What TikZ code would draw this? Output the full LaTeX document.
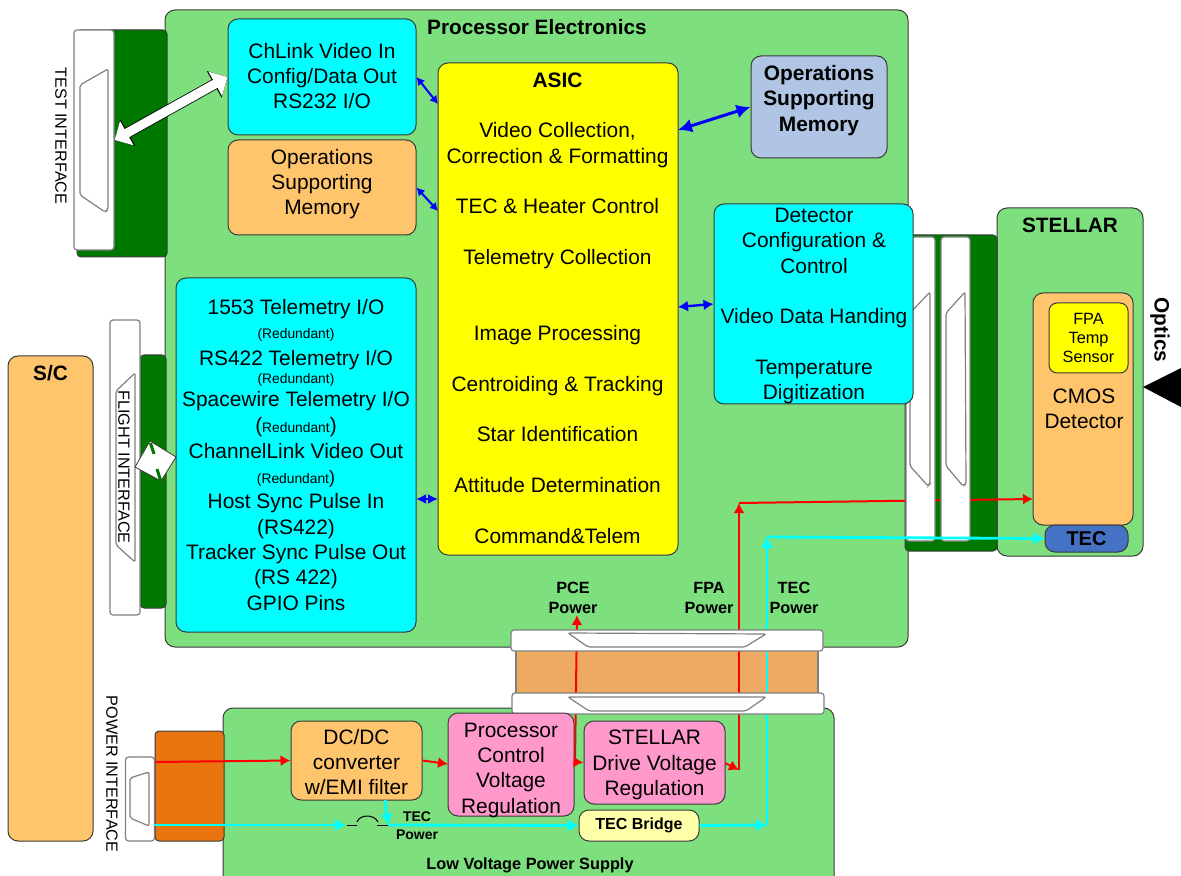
\documentclass[tikz,border=0pt]{standalone}
\usepackage{fontspec}
\setmainfont{Liberation Sans}
\usepackage{xcolor}
\usetikzlibrary{arrows.meta, positioning}

\definecolor{panelgreen}{HTML}{7DDF7D}
\definecolor{boardgreen}{HTML}{007800}
\definecolor{memorange}{HTML}{FFC56D}
\definecolor{regpink}{HTML}{FF99CC}
\definecolor{membluegrey}{HTML}{B0C4E4}
\definecolor{tecblue}{HTML}{4472C4}
\definecolor{flexorange}{HTML}{EDAA60}
\definecolor{pwrorange}{HTML}{E97510}
\definecolor{bridgeyellow}{HTML}{FFFFAA}
\definecolor{edgegrey}{HTML}{3A3A3A}
\definecolor{ioacyan}{HTML}{00FFFF}
\definecolor{asicyellow}{HTML}{FFFF00}
\definecolor{wirered}{HTML}{FF0000}
\definecolor{wireblue}{HTML}{0000FF}

\tikzset{
    panel/.style={draw=edgegrey, line width=0.5pt, fill=panelgreen, rounded corners=5pt, inner sep=0pt},
    board/.style={draw=edgegrey, line width=0.5pt, fill=boardgreen, rounded corners=2pt, inner sep=0pt},
    strip/.style={draw=gray, line width=0.6pt, fill=white, rounded corners=1.5pt, inner sep=0pt},
    dsub/.style={draw=gray, line width=0.6pt, fill=white, rounded corners=1pt},
    box/.style={draw=edgegrey, line width=0.5pt, rounded corners=5pt, inner sep=0pt, align=center,
        font=\fontsize{10.45}{12.67}\selectfont},
    boxtext/.style={inner sep=0pt, align=center, font=\fontsize{10.45}{12.67}\selectfont},
    title/.style={inner sep=0pt, align=center, font=\fontsize{10.4}{12.67}\selectfont\bfseries},
    smalltitle/.style={inner sep=0pt, align=center, font=\fontsize{8.15}{10}\selectfont\bfseries},
    sidetext/.style={inner sep=0pt, rotate=-90, font=\fontsize{8.1}{10}\selectfont},
    redline/.style={draw=wirered, line width=1pt},
    cyanline/.style={draw=ioacyan, line width=1.4pt, >={Latex[length=5.5pt,width=6.5pt]}},
    blueline/.style={draw=wireblue, line width=1pt, <->},
    whiteline/.style={draw=white, line width=4.6pt,
        {Triangle[length=7pt,width=13.5pt]}-{Triangle[length=7pt,width=13.5pt]},
        preaction={draw=black, line width=5.4pt,
        {Triangle[length=7.6pt,width=14.8pt]}-{Triangle[length=7.6pt,width=14.8pt]}}}
}
\newcommand{\redund}[1]{{\fontsize{6.9}{12.67}\selectfont #1}}

\begin{document}
\begin{tikzpicture}[>={Latex[length=5pt,width=5.5pt]}, x=0.5pt, y=-0.5pt]
    \useasboundingbox (0,0) rectangle (1181,876);

    % 1. Cac khoi nen
    \node[panel, minimum width=371.5pt, minimum height=318.5pt] (pce) at (536.5,328.5) {};
    \node[panel, minimum width=73pt, minimum height=174pt] (stellar) at (1070,382) {};
    \node[panel, minimum width=305.5pt, minimum height=91pt] (lvps) at (528.5,799) {};
    \node[box, fill=memorange, minimum width=42.5pt, minimum height=242.5pt] (sc) at (50.5,598.5) {};
    \node[title] (sctitle) at (50.5,373) {S/C};

    % 2. Bo mach va khoi cam
    \node[board, minimum width=45pt, minimum height=113.5pt] (testboard) at (122,143.5) {};
    \node[board, minimum width=13pt, minimum height=126.5pt] (flightboard) at (153,481.5) {};
    \node[board, minimum width=46pt, minimum height=158pt] (fpaboard) at (951,393) {};
    \node[board, fill=pwrorange, minimum width=34.5pt, minimum height=55pt] (pwrboard) at (189.5,786) {};
    \node[draw=gray, line width=0.6pt, fill=flexorange, inner sep=0pt, minimum width=151pt, minimum height=23pt] (flex) at (667,672) {};

    % 3. Duong nguon do
    \coordinate (pwrred) at (155,762);
    \coordinate (pcejunc) at (575,762);
    \coordinate (pcetop) at (577,615);
    \coordinate (fpajunc) at (739,770);
    \coordinate (fpatop) at (739,503);
    \coordinate (cmosin) at (1033,499);
    \coordinate (procin) at (448,764);
    \coordinate (fpaout) at (725,763);

    % 4. Duong nguon TEC
    \coordinate (pwrcyan) at (154,825);
    \coordinate (fuseleft) at (346,825);
    \coordinate (fuseright) at (388,825);
    \coordinate (dcdcout) at (385,800);
    \coordinate (tecup) at (767,825);
    \coordinate (tectop) at (767,537);

    \draw[redline, ->] (pcejunc) -- (pcetop);
    \draw[redline, ->] (fpajunc) -- (fpatop);
    \draw[redline, ->] (fpatop) -- (cmosin);
    \draw[cyanline, ->] (tecup) -- (tectop);

    % 5. Dau noi mau trang
    \node[strip, minimum width=20pt, minimum height=110pt] (testconn) at (94,140) {};
    \draw[dsub] (108,69) -- (80,85) -- (80,195) -- (105,212) -- (108,210) -- cycle;
    \node[strip, minimum width=15pt, minimum height=147.5pt] (flightconn) at (125,467.5) {};
    \draw[dsub] (135,373) -- (116,391) -- (116,545) -- (135,562) -- cycle;
    \node[strip, minimum width=14.5pt, minimum height=42pt] (pwrconn) at (140,799) {};
    \draw[dsub] (149,772) -- (130,778) -- (130,818) -- (149,826) -- cycle;
    \node[strip, minimum width=14.5pt, minimum height=152pt] (fpaconna) at (920.5,389) {};
    \draw[dsub] (930,292) -- (910,313) -- (910,466) -- (928,486) -- (930,484) -- cycle;
    \node[strip, minimum width=14.5pt, minimum height=152pt] (fpaconnb) at (955.5,389) {};
    \draw[dsub] (965,292) -- (946,313) -- (946,466) -- (963,486) -- (966,484) -- cycle;
    \node[strip, minimum width=156pt, minimum height=10.5pt] (flextop) at (667,640.5) {};
    \draw[dsub] (568,633) -- (588,647) -- (745,647) -- (766,634) -- cycle;
    \node[strip, minimum width=156pt, minimum height=10.5pt] (flexbot) at (668,703.5) {};
    \draw[dsub] (568,697) -- (589,711) -- (746,711) -- (766,697) -- cycle;

    % 6. Cac hop trong Processor Electronics
    \node[box, fill=ioacyan, minimum width=94pt, minimum height=58pt] (chlink) at (322,77) {};
    \node[boxtext] (chlinktext) at (322,76) {ChLink Video In\\Config/Data Out\\RS232 I/O};
    \node[box, fill=memorange, minimum width=94pt, minimum height=47.5pt] (opsleft) at (322,187.5) {};
    \node[boxtext] (opslefttext) at (322,184) {Operations\\Supporting\\Memory};
    \node[box, fill=asicyellow, minimum width=120pt, minimum height=246pt] (asic) at (558,309) {};
    \node[boxtext] (asictext) at (557.5,308)
        {\textbf{ASIC}\\~\\Video Collection,\\Correction \& Formatting\\~\\TEC \& Heater Control\\~\\Telemetry Collection\\~\\~\\Image Processing\\~\\Centroiding \& Tracking\\~\\Star Identification\\~\\Attitude Determination\\~\\Command\&Telem};
    \node[box, fill=membluegrey, minimum width=68pt, minimum height=51pt] (opsright) at (819,107) {};
    \node[boxtext, font=\fontsize{10.45}{12.67}\selectfont\bfseries] (opsrighttext) at (819,100.5) {Operations\\Supporting\\Memory};
    \node[box, fill=ioacyan, minimum width=99.5pt, minimum height=100pt] (detcfg) at (813.5,304) {};
    \node[boxtext] (detcfgtext) at (814,306)
        {Detector\\Configuration \&\\Control\\~\\Video Data Handing\\~\\Temperature\\Digitization};
    \node[box, fill=ioacyan, minimum width=120pt, minimum height=177pt] (telem) at (296,455)
        {1553 Telemetry I/O\\
         \raisebox{0.8pt}{\redund{(Redundant)}}\\
         RS422 Telemetry I/O\\[-2.6pt]
         \raisebox{0.8pt}{\redund{(Redundant)}}\\[-2.2pt]
         Spacewire Telemetry I/O\\[1.3pt]
         \raisebox{0.8pt}{(\redund{Redundant})}\\[-0.6pt]
         ChannelLink Video Out\\[0.4pt]
         \raisebox{0.8pt}{\redund{(Redundant}\fontsize{9}{12.67}\selectfont)}\\[-0.6pt]
         Host Sync Pulse In\\
         (RS422)\\
         Tracker Sync Pulse Out\\
         (RS 422)\\
         GPIO Pins};

    % 7. Khoi STELLAR
    \node[box, fill=memorange, minimum width=50pt, minimum height=116pt] (cmos) at (1083,409) {};
    \node[boxtext] (cmostext) at (1084,408.5) {CMOS\\Detector};
    \node[box, fill=asicyellow, rounded corners=4pt, minimum width=39.5pt, minimum height=35pt, font=\fontsize{8.15}{9.7}\selectfont] (fpatemp) at (1088.5,338)
        {FPA\\Temp\\Sensor};
    \node[box, fill=tecblue, minimum width=41.5pt, minimum height=13.5pt, font=\fontsize{10}{12}\selectfont\bfseries] (tecbox) at (1086.5,538.5) {TEC};

    % 8. Khoi Low Voltage Power Supply
    \node[box, fill=memorange, minimum width=65.5pt, minimum height=39.5pt] (dcdc) at (356.5,760.5) {};
    \node[boxtext] (dcdctext) at (356.5,762) {DC/DC\\converter\\w/EMI filter};
    \node[box, fill=regpink, minimum width=63pt, minimum height=51.5pt] (procreg) at (511,764.5) {};
    \node[boxtext] (procregtext) at (511,770) {Processor\\Control\\Voltage\\Regulation};
    \node[box, fill=regpink, minimum width=70.5pt, minimum height=41.5pt] (stellarreg) at (654.5,762.5) {};
    \node[boxtext] (stellarregtext) at (654.5,765) {STELLAR\\Drive Voltage\\Regulation};
    \node[box, fill=bridgeyellow, minimum width=60pt, minimum height=15.5pt, font=\fontsize{8}{10}\selectfont\bfseries] (tecbridge) at (639,825.5) {TEC Bridge};

    % 9. Mui ten tren mat cac hop
    \draw[redline, ->] (pwrred) -- (dcdc.west);
    \draw[redline, ->] (dcdc.east) -- (procin);
    \draw[redline, ->] (pcejunc) -- (stellarreg.west);
    \draw[redline, ->] (fpaout) -- (fpajunc);
    \draw[cyanline, ->] (pwrcyan) -- (fuseleft);
    \draw[cyanline, ->] (dcdcout) -- (fuseright);
    \draw[cyanline, ->] (fuseright) -- (tecbridge.west);
    \draw[cyanline, ->] (tecbridge.east) -- (tecup);
    \draw[cyanline, ->] (tectop) -- (tecbox.west);

    % Cau chi tren duong TEC
    \draw[line width=0.5pt] (347,825) -- (357,825);
    \draw[line width=0.5pt] (357,822) .. controls (360,814) and (374,814) .. (378,822);
    \draw[line width=0.5pt] (377,825) -- (388,825);

    % Mui ten xanh
    \coordinate (asicchlink) at (438,104);
    \coordinate (asicops) at (438,211);
    \coordinate (asicmem) at (678,130);
    \coordinate (asicdet) at (678,307);
    \coordinate (asictelem) at (438,499);
    \coordinate (telemasic) at (416,499);
    \draw[blueline, >={Latex[length=4pt,width=4.5pt]}] (chlink.east) -- (asicchlink);
    \draw[blueline, >={Latex[length=4pt,width=4.5pt]}] (opsleft.east) -- (asicops);
    \draw[blueline, line width=1.5pt, >={Latex[length=7pt,width=7pt]}] (asicmem) -- (opsright.west);
    \draw[blueline, line width=1.2pt, >={Latex[length=5pt,width=5.5pt]}] (asicdet) -- (detcfg.west);
    \draw[blueline, >={Latex[length=5pt,width=5pt]}] (telemasic) -- (asictelem);

    % Mui ten trang
    \draw[whiteline] (testconn.east) -- (chlink.west);
    \draw[draw=edgegrey, line width=0.4pt, fill=white] (150,441) -- (176,457) -- (161,481) -- (135,467) -- cycle;
    \draw[draw=boardgreen, line width=1.5pt] (150.5,443) -- (154,454);
    \draw[draw=boardgreen, line width=1.5pt] (157,469) -- (160.5,480);

    % Tam giac Optics
    \fill (1143,387) -- (1181,368) -- (1181,407) -- cycle;

    % 10. Nhan chu
    \node[title] (pcetitle) at (537,27) {Processor Electronics};
    \node[title] (stellartitle) at (1070,225) {STELLAR};
    \node[title, rotate=-90] (opticstitle) at (1160,330) {Optics};
    \node[smalltitle] (lvtitle) at (530,865) {Low Voltage Power Supply};
    \node[smalltitle] (pcepower) at (573,598) {PCE\\Power};
    \node[smalltitle] (fpapower) at (709,598) {FPA\\Power};
    \node[smalltitle] (tecpower) at (794,598) {TEC\\Power};
    \node[smalltitle, font=\fontsize{7}{8.8}\selectfont\bfseries] (tecpowerlv) at (417,825.5) {TEC\\Power};
    \node[sidetext] (testlabel) at (61,136) {TEST INTERFACE};
    \node[sidetext] (flightlabel) at (124,467) {FLIGHT INTERFACE};
    \node[sidetext] (powerlabel) at (112,774) {POWER INTERFACE};

\end{tikzpicture}
\end{document}
